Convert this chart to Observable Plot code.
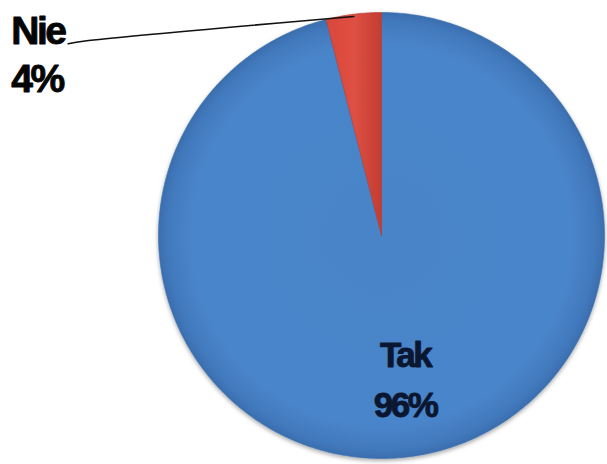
<!DOCTYPE html>
<html>
<head>
<meta charset="utf-8">
<script src="https://cdn.jsdelivr.net/npm/d3@7"></script>
<script src="https://cdn.jsdelivr.net/npm/@observablehq/plot@0.6"></script>
<style>
  html, body { margin: 0; padding: 0; background: #ffffff; }
  #chart svg { display: block; overflow: visible; }
</style>
</head>
<body>
<div id="chart"></div>
<script>
// Data
const categories = ["Tak", "Nie"];
const values = [96, 4];
const percentLabels = ["96%", "4%"];
const sliceColors = ["url(#gradBlue)", "url(#gradRed)"];

// Build slice polygons from d3.pie angles (clockwise from 12 o'clock)
const pie = d3.pie().sort(null).value(d => d.value);
const arcs = pie(categories.map((c, i) => ({category: c, value: values[i], label: percentLabels[i]})));

const slicePoints = [];
arcs.forEach(a => {
  const n = Math.max(4, Math.ceil((a.endAngle - a.startAngle) / 0.01));
  slicePoints.push({category: a.data.category, x: 0, y: 0});
  for (let k = 0; k <= n; k++) {
    const t = a.startAngle + (a.endAngle - a.startAngle) * k / n;
    slicePoints.push({category: a.data.category, x: Math.sin(t), y: Math.cos(t)});
  }
  slicePoints.push({category: a.data.category, x: 0, y: 0});
});

const mid = a => (a.startAngle + a.endAngle) / 2;
// Inside label for the big slice
const big = arcs[0];
const bigPos = {x: Math.sin(mid(big)) * 0.7, y: Math.cos(mid(big)) * 0.7};
// Outside label for the small slice with a leader line
const small = arcs[1];
const labelAnchor = {x: -1.405, y: 0.86};
const leader = [
  {x: labelAnchor.x, y: labelAnchor.y},
  {x: -1.33, y: 0.872},
  {x: Math.sin(mid(small)) * 0.99, y: Math.cos(mid(small)) * 0.99}
];
const smallPos = {x: -1.66, y: labelAnchor.y};

const insideFont = {fontSize: 35, fontWeight: "bold", fill: "#0b1630", stroke: "#0b1630", strokeWidth: 0.9,
  fontFamily: "Liberation Sans, Arial, sans-serif", textAnchor: "middle", dx: 4};
const outsideFont = {fontSize: 39, fontWeight: "bold", fill: "#050505", stroke: "#050505", strokeWidth: 0.9,
  fontFamily: "Liberation Sans, Arial, sans-serif", textAnchor: "start"};

const chart = Plot.plot({
  width: 607,
  height: 464,
  marginLeft: 158,
  marginRight: 3,
  marginTop: 12,
  marginBottom: 6,
  x: {domain: [-1, 1], axis: null},
  y: {domain: [-1, 1], axis: null},
  style: {background: "#ffffff", overflow: "visible"},
  marks: [
    Plot.line(slicePoints, {
      x: "x", y: "y", z: "category",
      fill: d => sliceColors[categories.indexOf(d.category)],
      stroke: d => d.category === "Tak" ? "#3a6fae" : "#b23a30",
      strokeWidth: 0.6,
      curve: "linear"
    }),
    Plot.line(leader, {x: "x", y: "y", stroke: "#111111", strokeWidth: 1.6, curve: "catmull-rom"}),
    Plot.text([big.data.category], {x: () => bigPos.x, y: () => bigPos.y, text: d => d, dy: -35, ...insideFont}),
    Plot.text([big.data.label], {x: () => bigPos.x, y: () => bigPos.y, text: d => d, dy: 15, ...insideFont}),
    Plot.text([small.data.category], {x: () => smallPos.x, y: () => smallPos.y, text: d => d, dy: -12, ...outsideFont}),
    Plot.text([small.data.label], {x: () => smallPos.x, y: () => smallPos.y, text: d => d, dy: 36, ...outsideFont})
  ]
});

// Gradients and soft shadow
const ns = "http://www.w3.org/2000/svg";
const defs = document.createElementNS(ns, "defs");
defs.innerHTML = `
  <radialGradient id="gradBlue" gradientUnits="userSpaceOnUse" cx="381" cy="235" r="223">
    <stop offset="0" stop-color="#4a84c8"/>
    <stop offset="0.85" stop-color="#4a85ca"/>
    <stop offset="0.96" stop-color="#4279bd"/>
    <stop offset="1" stop-color="#3a6eae"/>
  </radialGradient>
  <linearGradient id="gradRed" x1="0" y1="0" x2="1" y2="0">
    <stop offset="0" stop-color="#d9463a"/>
    <stop offset="0.5" stop-color="#de5044"/>
    <stop offset="1" stop-color="#c43c31"/>
  </linearGradient>
  <filter id="soft" x="-10%" y="-10%" width="120%" height="120%">
    <feDropShadow dx="0" dy="2" stdDeviation="2" flood-color="#000" flood-opacity="0.35"/>
  </filter>`;
chart.insertBefore(defs, chart.firstChild);
const slices = chart.querySelector("g[aria-label='line']");
if (slices) slices.setAttribute("filter", "url(#soft)");
chart.querySelectorAll("text").forEach(t => t.setAttribute("letter-spacing", "-2.5"));
document.getElementById("chart").appendChild(chart);
</script>
</body>
</html>
